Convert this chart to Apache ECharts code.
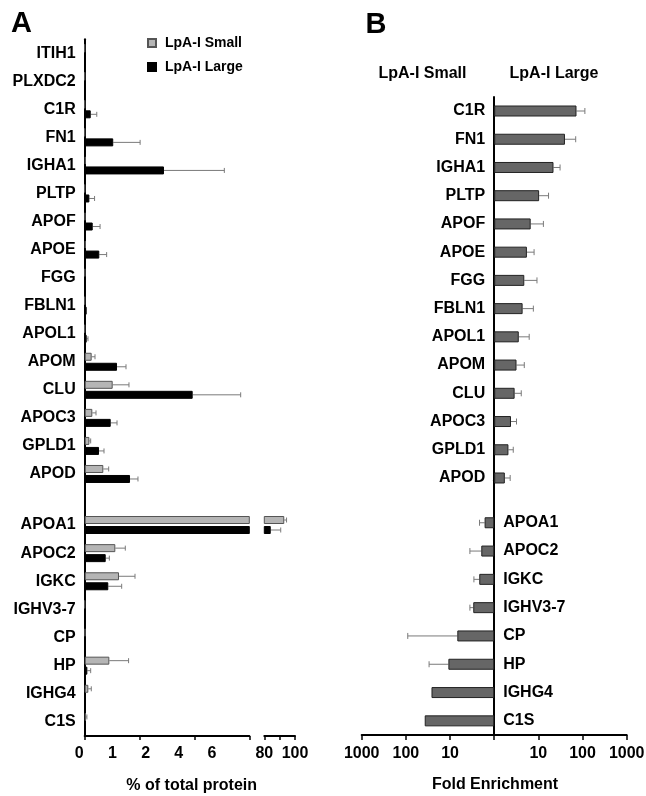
<!DOCTYPE html>
<html>
<head>
<meta charset="utf-8">
<script src="https://cdn.jsdelivr.net/npm/echarts@6/dist/echarts.min.js"></script>
<style>
  html, body { margin: 0; padding: 0; background: #fff; }
  #chart { width: 646px; height: 796px; }
</style>
</head>
<body>
<div id="chart"></div>
<script>
// Panel A, upper block (values in units of the first axis segment, ticks at 0..3)
const proteinsTop = ['ITIH1', 'PLXDC2', 'C1R', 'FN1', 'IGHA1', 'PLTP', 'APOF', 'APOE',
    'FGG', 'FBLN1', 'APOL1', 'APOM', 'CLU', 'APOC3', 'GPLD1', 'APOD'];
const smallTop = [0, 0, 0, 0, 0.02, 0, 0.01, 0.02, 0.006, 0, 0, 0.127, 0.51, 0.139, 0.085, 0.339];
const smallTopErr = [null, null, null, null, null, null, null, null, null, null, null, 0.188, 0.807, 0.206, 0.109, 0.437];
const largeTop = [0, 0, 0.11, 0.52, 1.445, 0.085, 0.146, 0.266, 0.01, 0.036, 0.036, 0.589, 1.968, 0.474, 0.261, 0.826];
const largeTopErr = [null, null, 0.22, 1.01, 2.545, 0.18, 0.28, 0.40, null, null, 0.06, 0.753, 2.843, 0.589, 0.352, 0.971];

// Panel A, lower block (APOA1 continues on the 80-100 segment)
const proteinsBottom = ['APOA1', 'APOC2', 'IGKC', 'IGHV3-7', 'CP', 'HP', 'IGHG4', 'C1S'];
const smallBottom = [93, 0.558, 0.625, 0, 0.01, 0.449, 0.066, 0.024];
const smallBottomErr = [94.5, 0.74, 0.917, null, null, 0.80, 0.12, 0.04];
const largeBottom = [84.2, 0.383, 0.43, 0, 0, 0.048, 0.01, 0];
const largeBottomErr = [90.7, 0.449, 0.674, null, null, 0.109, null, null];

const segTickLabels = ['0', '1', '2', '4', '6'];
const breakTickLabels = ['80', '', '100'];

// Panel B, fold enrichment
const enrichedLarge = ['C1R', 'FN1', 'IGHA1', 'PLTP', 'APOF', 'APOE', 'FGG', 'FBLN1',
    'APOL1', 'APOM', 'CLU', 'APOC3', 'GPLD1', 'APOD'];
const foldLarge = [73, 40, 22, 10.4, 6.7, 5.5, 4.8, 4.4, 3.6, 3.2, 2.9, 2.4, 2.1, 1.74];
const foldLargeErr = [113, 70, 31, 17, 13, 8, 9.3, 7.7, 6.2, 4.8, 4.1, 3.2, 2.7, 2.3];
const enrichedSmall = ['APOA1', 'APOC2', 'IGKC', 'IGHV3-7', 'CP', 'HP', 'IGHG4', 'C1S'];
const foldSmall = [1.65, 1.96, 2.18, 2.98, 6.84, 10.9, 26.3, 37.4];
const foldSmallErr = [2.15, 3.55, 2.88, 3.55, 90.6, 29.8, null, null];

const FONT = 'Liberation Sans';
const labelStyle = { color: '#000', fontSize: 16, fontWeight: 'bold', fontFamily: FONT };
const axisLine = { show: true, onZero: false, lineStyle: { color: '#000', width: 2 } };
const SEG_MAX = 3;

const smallStyle = { color: '#b5b5b5', borderColor: '#555', borderWidth: 1 };
const largeStyle = { color: '#000', borderColor: '#000', borderWidth: 1 };
const foldStyle = { color: '#666', borderColor: '#222', borderWidth: 1 };

const log10 = v => Math.log10(v);

// error bar whiskers drawn through the axes
function errorBars(xAxisIndex, yAxisIndex, values, errs, shift, lo, hi, rowOffset, wide) {
    const data = [];
    values.forEach((v, i) => {
        const e = errs[i];
        if (e == null || v < lo || e > hi) return;
        data.push([v, e, i + rowOffset]);
    });
    return {
        type: 'custom',
        xAxisIndex: xAxisIndex,
        yAxisIndex: yAxisIndex,
        silent: true,
        z: 1,
        encode: { x: [0, 1], y: 2 },
        data: data,
        renderItem: function (params, api) {
            const a = api.coord([api.value(0), api.value(2)]);
            const b = api.coord([api.value(1), api.value(2)]);
            const y = a[1] + shift;
            const cap = wide ? 3 : 2.5;
            const st = { stroke: '#7a7a7a', lineWidth: 1 };
            return {
                type: 'group',
                children: [
                    { type: 'line', shape: { x1: a[0], y1: y, x2: b[0], y2: y }, style: st },
                    { type: 'line', shape: { x1: b[0], y1: y - cap, x2: b[0], y2: y + cap }, style: st }
                ]
            };
        }
    };
}

const blankFirst = arr => [''].concat(arr);
const dashFirst = arr => ['-'].concat(arr);

const chart = echarts.init(document.getElementById('chart'), null, { renderer: 'canvas' });

const gridA1 = { left: 84.7, top: 39.2, width: 164.6, height: 448.8, outerBoundsMode: 'none' };
const gridA2 = { left: 84.7, top: 482.8, width: 164.6, height: 253.2, outerBoundsMode: 'none' };
const gridA3 = { left: 264.3, top: 482.8, width: 30.7, height: 253.2, outerBoundsMode: 'none' };
const gridB1 = { left: 361.7, top: 96.9, width: 265, height: 395.2, outerBoundsMode: 'none' };
const gridB2 = { left: 361.7, top: 480.3, width: 265, height: 254.7, outerBoundsMode: 'none' };
// the B category axes sit on fold = 1, the middle of the grid
const midB = -gridB1.width / 2;

const foldLabels = { '-3': '1000', '-2': '100', '-1': '10', '0': '', '1': '10', '2': '100', '3': '1000' };

function heading(text, x, y, size) {
    return {
        type: 'text', x: x, y: y, silent: true,
        style: {
            text: text, fill: '#000', font: 'bold ' + size + 'px "' + FONT + '"',
            align: 'center', verticalAlign: 'middle', textAlign: 'center', textVerticalAlign: 'middle'
        }
    };
}

chart.setOption({
    animation: false,
    backgroundColor: '#fff',
    graphic: [
        heading('A', 21.5, 24, 29),
        heading('B', 376, 25, 29),
        heading('LpA-I Small', 422.5, 74, 16),
        heading('LpA-I Large', 554, 74, 16),
        heading('% of total protein', 191.7, 786, 16),
        heading('Fold Enrichment', 495, 785, 16)
    ],
    legend: {
        data: ['LpA-I Small', 'LpA-I Large'],
        orient: 'vertical',
        left: 147,
        top: 36,
        padding: 0,
        itemWidth: 8,
        itemHeight: 8,
        itemGap: 10,
        icon: 'rect',
        selectedMode: false,
        textStyle: { color: '#000', fontSize: 14, fontWeight: 'bold', fontFamily: FONT, padding: [0, 0, 0, 4] }
    },
    grid: [gridA1, gridA2, gridA3, gridB1, gridB2],
    xAxis: [
        { gridIndex: 0, type: 'value', min: 0, max: SEG_MAX, show: false },
        {
            gridIndex: 1, type: 'value', min: 0, max: SEG_MAX, interval: 1, position: 'bottom',
            axisLine: axisLine, axisTick: { show: true, length: 4, lineStyle: { color: '#000', width: 1.5 } },
            axisLabel: { show: false }, splitLine: { show: false }
        },
        {
            gridIndex: 1, type: 'value', min: 0, max: 4.958, interval: 1, position: 'bottom',
            axisLine: { show: false }, axisTick: { show: false }, splitLine: { show: false },
            axisLabel: Object.assign({
                margin: 10, padding: [0, 11, 0, 0], showMaxLabel: false,
                formatter: (v, i) => segTickLabels[i] || ''
            }, labelStyle)
        },
        {
            gridIndex: 2, type: 'value', min: 80, max: 100, interval: 10, position: 'bottom',
            axisLine: axisLine, axisTick: { show: true, length: 4, lineStyle: { color: '#000', width: 1.5 } },
            splitLine: { show: false },
            axisLabel: Object.assign({ margin: 10, formatter: (v, i) => breakTickLabels[i] || '' }, labelStyle)
        },
        { gridIndex: 3, type: 'value', min: -3, max: 3, show: false },
        {
            gridIndex: 4, type: 'value', min: -3, max: 3, interval: 1, position: 'bottom',
            axisLine: axisLine, axisTick: { show: true, length: 5, lineStyle: { color: '#000', width: 1.5 } },
            splitLine: { show: false },
            axisLabel: Object.assign({ margin: 11, formatter: v => foldLabels[String(Math.round(v))] }, labelStyle)
        }
    ],
    yAxis: [
        {
            gridIndex: 0, type: 'category', data: proteinsTop, inverse: true,
            axisLine: axisLine, axisTick: { show: false },
            axisLabel: Object.assign({ margin: 9, interval: 0 }, labelStyle)
        },
        {
            gridIndex: 1, type: 'category', data: blankFirst(proteinsBottom), inverse: true,
            axisLine: axisLine, axisTick: { show: false },
            axisLabel: Object.assign({ margin: 9, interval: 0 }, labelStyle)
        },
        { gridIndex: 2, type: 'category', data: blankFirst(proteinsBottom), inverse: true, show: false },
        {
            gridIndex: 3, type: 'category', data: enrichedLarge, inverse: true, offset: midB,
            axisLine: axisLine, axisTick: { show: false },
            axisLabel: Object.assign({ margin: 9, interval: 0 }, labelStyle)
        },
        {
            gridIndex: 4, type: 'category', data: blankFirst(enrichedSmall), inverse: true, offset: midB,
            axisLine: axisLine, axisTick: { show: false },
            axisLabel: Object.assign({ margin: 9, interval: 0, inside: true }, labelStyle)
        }
    ],
    series: [
        // panel A upper block
        { name: 'LpA-I Small', type: 'bar', xAxisIndex: 0, yAxisIndex: 0, data: smallTop,
          barWidth: 8, barGap: '25%', clip: true, itemStyle: smallStyle },
        { name: 'LpA-I Large', type: 'bar', xAxisIndex: 0, yAxisIndex: 0, data: largeTop,
          barWidth: 8, barGap: '25%', clip: true, itemStyle: largeStyle },
        errorBars(0, 0, smallTop, smallTopErr, -5, 0, SEG_MAX, 0),
        errorBars(0, 0, largeTop, largeTopErr, 5, 0, SEG_MAX, 0),
        // panel A lower block, first segment
        { name: 'LpA-I Small', type: 'bar', xAxisIndex: 1, yAxisIndex: 1, data: dashFirst(smallBottom),
          barWidth: 8, barGap: '25%', clip: true, itemStyle: smallStyle },
        { name: 'LpA-I Large', type: 'bar', xAxisIndex: 1, yAxisIndex: 1, data: dashFirst(largeBottom),
          barWidth: 8, barGap: '25%', clip: true, itemStyle: largeStyle },
        errorBars(1, 1, smallBottom, smallBottomErr, -5, 0, SEG_MAX, 1),
        errorBars(1, 1, largeBottom, largeBottomErr, 5, 0, SEG_MAX, 1),
        // panel A lower block, 80-100 segment
        { name: 'LpA-I Small', type: 'bar', xAxisIndex: 3, yAxisIndex: 2,
          data: dashFirst(smallBottom.map(v => v > SEG_MAX ? v : '-')),
          barWidth: 8, barGap: '25%', clip: true, itemStyle: smallStyle },
        { name: 'LpA-I Large', type: 'bar', xAxisIndex: 3, yAxisIndex: 2,
          data: dashFirst(largeBottom.map(v => v > SEG_MAX ? v : '-')),
          barWidth: 8, barGap: '25%', clip: true, itemStyle: largeStyle },
        errorBars(3, 2, smallBottom, smallBottomErr, -5, SEG_MAX, 100, 1),
        errorBars(3, 2, largeBottom, largeBottomErr, 5, SEG_MAX, 100, 1),
        // panel B
        { name: 'Large enriched', type: 'bar', xAxisIndex: 4, yAxisIndex: 3,
          data: foldLarge.map(log10), barWidth: 11, itemStyle: foldStyle },
        errorBars(4, 3, foldLarge.map(log10), foldLargeErr.map(v => v == null ? null : log10(v)), 0, -9, 9, 0, true),
        { name: 'Small enriched', type: 'bar', xAxisIndex: 5, yAxisIndex: 4,
          data: dashFirst(foldSmall.map(v => -log10(v))), barWidth: 11, itemStyle: foldStyle },
        errorBars(5, 4, foldSmall.map(v => -log10(v)), foldSmallErr.map(v => v == null ? null : -log10(v)), 0, -9, 9, 1, true)
    ]
});
</script>
</body>
</html>
